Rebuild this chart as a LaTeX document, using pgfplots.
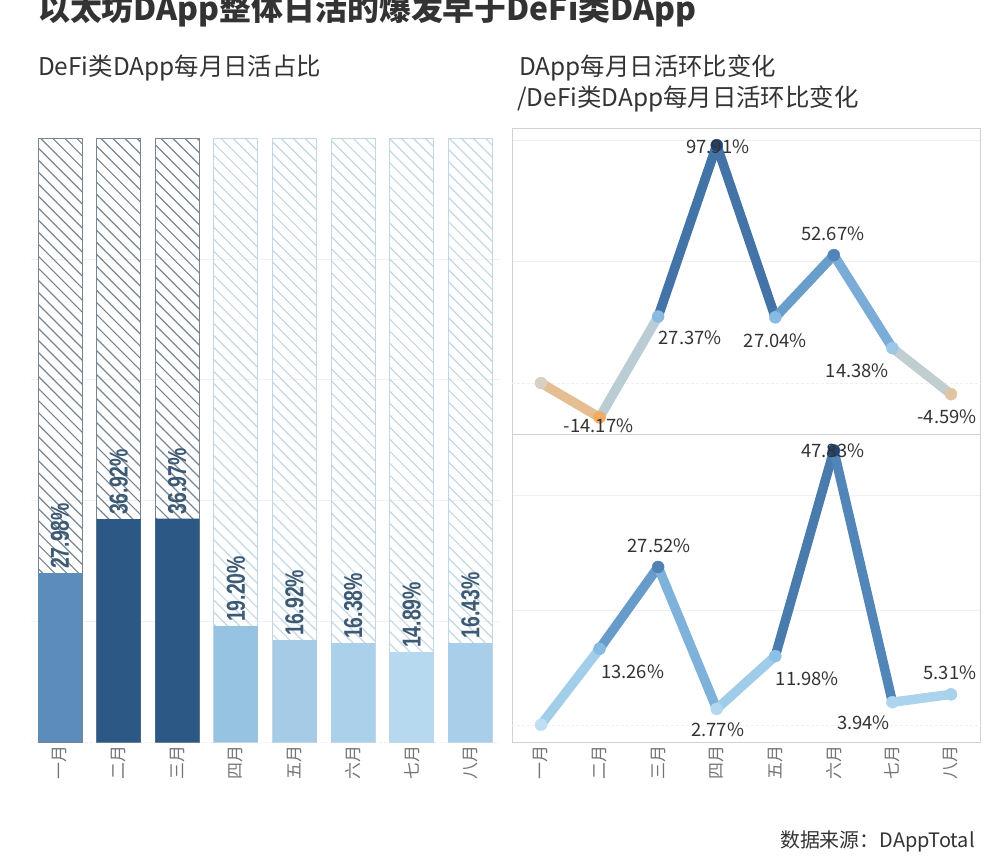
\documentclass[border=0pt]{standalone}
\usepackage{fontspec}
\setmainfont{Noto Sans CJK SC}
\newfontfamily\barfont{Liberation Sans}
\usepackage{graphicx}
\usepackage{pgfplots}
\pgfplotsset{compat=1.18}
\usetikzlibrary{patterns.meta}

\definecolor{txt}{HTML}{333333}
\definecolor{barlab}{HTML}{3D5A75}
\definecolor{hatchdark}{HTML}{76858F}
\definecolor{hatchlight}{HTML}{C2D7E5}
\definecolor{barA}{HTML}{5B8CBA}
\definecolor{barB}{HTML}{2C5886}
\definecolor{barC}{HTML}{97C3E2}
\definecolor{barD}{HTML}{A5CBE7}
\definecolor{barE}{HTML}{ABD0EA}
\definecolor{barF}{HTML}{B7D9EF}
\definecolor{barG}{HTML}{A8CEE9}

\pgfplotsset{
  colormap={topmap}{rgb255=(244,170,95) rgb255=(214,209,195) rgb255=(156,200,232)
    rgb255=(136,186,226) rgb255=(100,152,198) rgb255=(76,126,178) rgb255=(58,105,155)
    rgb255=(44,86,134) rgb255=(32,68,110)},
  colormap={botmap}{rgb255=(190,223,242) rgb255=(140,192,228) rgb255=(88,140,190)
    rgb255=(60,106,155) rgb255=(34,68,110)},
  monthticks/.style={
    xtick={0,...,7},
    xticklabels={一月,二月,三月,四月,五月,六月,七月,八月},
    xticklabel style={rotate=90, anchor=east, font=\fontsize{17}{17}\selectfont, text=black!55},
  },
  barlab/.style={
    nodes near coords={\scalebox{0.75}[1]{\pgfmathprintnumber[fixed,fixed zerofill,precision=2]{\pgfplotspointmeta}\%}},
    nodes near coords align={horizontal},
    nodes near coords style={rotate=90, anchor=west, inner sep=4bp,
      font=\barfont\bfseries\fontsize{26}{26}\selectfont, text=barlab},
  },
  linelab/.style={
    draw=none, mark=none, point meta=y,
    visualization depends on={value \thisrow{dx}\as\dx},
    visualization depends on={value \thisrow{dy}\as\dy},
    nodes near coords={\pgfmathprintnumber[fixed,fixed zerofill,precision=2]{\pgfplotspointmeta}\%},
    nodes near coords style={anchor=center, xshift=\dx bp, yshift=\dy bp,
      font=\fontsize{18.5}{18.5}\selectfont, text=txt},
  },
  trend/.style={mesh, point meta=y, line width=9.5bp, line cap=round, line join=round},
  dots/.style={scatter, only marks, mark=*, mark size=6bp, point meta=y,
    scatter/use mapped color={draw=mapped color, fill=mapped color}},
}

\begin{document}
\begin{tikzpicture}
\useasboundingbox (0bp,0bp) rectangle (995bp,-867bp);

% titles
\node[anchor=base west, inner sep=0, font=\bfseries\fontsize{32}{32}\selectfont, text=txt]
  at (38bp,-20bp) {以太坊DApp整体日活的爆发早于DeFi类DApp};
\node[anchor=base west, inner sep=0, font=\fontsize{24.5}{24.5}\selectfont, text=txt]
  at (38bp,-75bp) {DeFi类DApp每月日活占比};
\node[anchor=base west, inner sep=0, font=\fontsize{24.5}{24.5}\selectfont, text=txt]
  at (519bp,-75bp) {DApp每月日活环比变化};
\node[anchor=base west, inner sep=0, font=\fontsize{24.5}{24.5}\selectfont, text=txt]
  at (517bp,-106bp) {/DeFi类DApp每月日活环比变化};
\node[anchor=base east, inner sep=0, font=\fontsize{20}{20}\selectfont, text=txt]
  at (975bp,-847bp) {数据来源：DAppTotal};

% left: share of DeFi DApps
\begin{axis}[
  at={(30.7bp,-742bp)}, anchor=south west,
  scale only axis, width=469bp, height=604bp,
  xmin=-0.5, xmax=7.5, ymin=0, ymax=100,
  ybar, bar width=44bp,
  axis line style={draw=none}, major tick length=0pt,
  ytick={20,40,60,80}, yticklabels={}, ymajorgrids, major grid style={draw=black!5},
  extra y ticks={0}, extra y tick labels={},
  extra y tick style={grid style={densely dashed, draw=black!30}},
  monthticks,
  /pgf/number format/assume math mode=true,
  clip=false,
]
\addplot[bar shift=0pt, draw=hatchdark, line width=0.8bp,
  pattern={Lines[angle=-45,distance=8.5bp,line width=1.2bp]}, pattern color=hatchdark]
  coordinates {(0,100) (1,100) (2,100)};
\addplot[bar shift=0pt, draw=hatchlight, line width=0.8bp,
  pattern={Lines[angle=-45,distance=8.5bp,line width=1.2bp]}, pattern color=hatchlight]
  coordinates {(3,100) (4,100) (5,100) (6,100) (7,100)};

\addplot[bar shift=0pt, fill=barA, draw=none, barlab] coordinates {(0,27.98)};
\addplot[bar shift=0pt, fill=barB, draw=none, barlab] coordinates {(1,36.92) (2,36.97)};
\addplot[bar shift=0pt, fill=barC, draw=none, barlab] coordinates {(3,19.20)};
\addplot[bar shift=0pt, fill=barD, draw=none, barlab] coordinates {(4,16.92)};
\addplot[bar shift=0pt, fill=barE, draw=none, barlab] coordinates {(5,16.38)};
\addplot[bar shift=0pt, fill=barF, draw=none, barlab] coordinates {(6,14.89)};
\addplot[bar shift=0pt, fill=barG, draw=none, barlab] coordinates {(7,16.43)};
\end{axis}

% right top: DApp month-on-month
\begin{axis}[
  at={(511.7bp,-434bp)}, anchor=south west,
  scale only axis, width=468.6bp, height=306bp,
  xmin=-0.5, xmax=7.5, ymin=-21, ymax=105,
  axis line style={draw=black!18}, major tick length=0pt,
  xtick=\empty,
  ytick={50,100}, yticklabels={}, ymajorgrids, major grid style={draw=black!6},
  extra y ticks={0}, extra y tick labels={},
  extra y tick style={grid style={densely dashed, draw=black!30}},
  colormap name=topmap, point meta min=-14.17, point meta max=97.91,
  /pgf/number format/assume math mode=true,
  clip=false,
]
\addplot[trend]
  coordinates {(0,0) (1,-14.17) (2,27.37) (3,97.91) (4,27.04) (5,52.67) (6,14.38) (7,-4.59)};
\addplot[dots]
  coordinates {(0,0) (1,-14.17) (2,27.37) (3,97.91) (4,27.04) (5,52.67) (6,14.38) (7,-4.59)};
\addplot[linelab] table {
x y dx dy
1 -14.17 -1 -8
2 27.37 32 -21
3 97.91 1 -2
4 27.04 0 -23
5 52.67 -1 21
6 14.38 -35 -23
7 -4.59 -4 -23
};
\end{axis}

% right bottom: DeFi DApp month-on-month
\begin{axis}[
  at={(511.7bp,-742bp)}, anchor=south west,
  scale only axis, width=468.6bp, height=308bp,
  xmin=-0.5, xmax=7.5, ymin=-3, ymax=50.7,
  axis line style={draw=black!18}, major tick length=0pt,
  monthticks,
  ytick={20,40}, yticklabels={}, ymajorgrids, major grid style={draw=black!6},
  extra y ticks={0}, extra y tick labels={},
  extra y tick style={grid style={densely dashed, draw=black!30}},
  colormap name=botmap, point meta min=0, point meta max=47.83,
  /pgf/number format/assume math mode=true,
  clip=false,
]
\addplot[trend]
  coordinates {(0,0) (1,13.26) (2,27.52) (3,2.77) (4,11.98) (5,47.83) (6,3.94) (7,5.31)};
\addplot[dots]
  coordinates {(0,0) (1,13.26) (2,27.52) (3,2.77) (4,11.98) (5,47.83) (6,3.94) (7,5.31)};
\addplot[linelab] table {
x y dx dy
1 13.26 33 -23
2 27.52 1 21
3 2.77 1 -21
4 11.98 32 -23
5 47.83 -1 0
6 3.94 -29 -21
7 5.31 -1 22
};
\end{axis}
\end{tikzpicture}
\end{document}
